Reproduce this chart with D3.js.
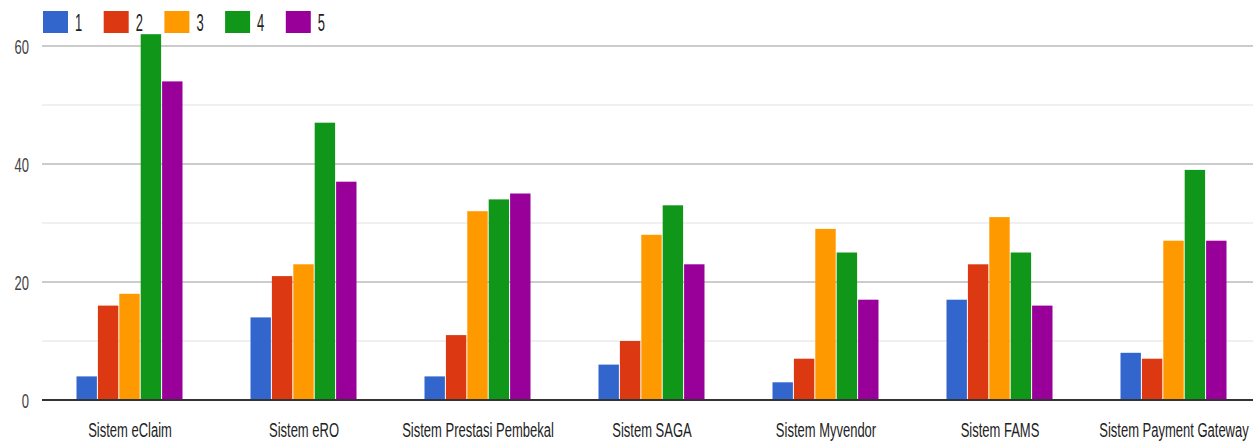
<!DOCTYPE html>
<html>
<head>
<meta charset="utf-8">
<script src="https://cdn.jsdelivr.net/npm/d3@7"></script>
<style>
  html, body { margin: 0; padding: 0; background: #fff; }
  svg { display: block; font-family: Arial, "Liberation Sans", sans-serif; }
</style>
</head>
<body>
<div id="chart"></div>
<script>
const categories = [
  'Sistem eClaim',
  'Sistem eRO',
  'Sistem Prestasi Pembekal',
  'Sistem SAGA',
  'Sistem Myvendor',
  'Sistem FAMS',
  'Sistem Payment Gateway',
];
const seriesNames = ['1', '2', '3', '4', '5'];
const series1 = [4, 14, 4, 6, 3, 17, 8];
const series2 = [16, 21, 11, 10, 7, 23, 7];
const series3 = [18, 23, 32, 28, 29, 31, 27];
const series4 = [62, 47, 34, 33, 25, 25, 39];
const series5 = [54, 37, 35, 23, 17, 16, 27];
const majorTicks = [0, 20, 40, 60];
const minorTicks = [10, 30, 50];
const colors = ['#3366cc', '#dc3912', '#ff9900', '#109618', '#990099'];

const allSeries = [series1, series2, series3, series4, series5];

const width = 1253,
  height = 445,
  plotLeft = 42,
  plotRight = 1253;

const svg = d3
  .select('#chart')
  .append('svg')
  .attr('width', width)
  .attr('height', height);

const y = d3.scaleLinear().domain([0, 60]).range([400, 46]);

const x0 = d3.scaleBand().domain(categories).range([43, 1261]).padding(0);

const groupWidth = 107;
const x1 = d3
  .scaleBand()
  .domain(seriesNames)
  .range([0, groupWidth])
  .padding(0);

/* ------- GRIDLINES ------- */
svg
  .selectAll('line.minor')
  .data(minorTicks)
  .enter()
  .append('line')
  .attr('class', 'minor')
  .attr('x1', plotLeft)
  .attr('x2', plotRight)
  .attr('y1', (d) => y(d))
  .attr('y2', (d) => y(d))
  .attr('stroke', '#ebebeb')
  .attr('stroke-width', 1.5);

svg
  .selectAll('line.major')
  .data(majorTicks.filter((d) => d !== 0))
  .enter()
  .append('line')
  .attr('class', 'major')
  .attr('x1', plotLeft)
  .attr('x2', plotRight)
  .attr('y1', (d) => y(d))
  .attr('y2', (d) => y(d))
  .attr('stroke', '#cccccc')
  .attr('stroke-width', 2);

/* ------- Y TICK LABELS ------- */
svg
  .selectAll('text.ytick')
  .data(majorTicks)
  .enter()
  .append('text')
  .attr('class', 'ytick')
  .attr('text-anchor', 'end')
  .attr('font-size', 13)
  .attr('fill', '#444')
  .attr('transform', (d) => `translate(29,${y(d) + 8}) scale(1,1.6)`)
  .text((d) => d);

/* ------- BARS ------- */
const groups = svg
  .selectAll('g.group')
  .data(categories)
  .enter()
  .append('g')
  .attr('class', 'group')
  .attr(
    'transform',
    (d) => `translate(${x0(d) + (x0.bandwidth() - groupWidth) / 2},0)`
  );

groups
  .selectAll('rect')
  .data((d, i) => seriesNames.map((s, j) => ({ s, value: allSeries[j][i], j })))
  .enter()
  .append('rect')
  .attr('x', (d) => x1(d.s))
  .attr('y', (d) => y(d.value))
  .attr('width', x1.bandwidth() - 1)
  .attr('height', (d) => y(0) - y(d.value))
  .attr('fill', (d) => colors[d.j]);

/* ------- BASELINE ------- */
svg
  .append('line')
  .attr('x1', plotLeft)
  .attr('x2', plotRight)
  .attr('y1', y(0))
  .attr('y2', y(0))
  .attr('stroke', '#333')
  .attr('stroke-width', 2);

/* ------- X LABELS ------- */
svg
  .selectAll('text.xlabel')
  .data(categories)
  .enter()
  .append('text')
  .attr('class', 'xlabel')
  .attr('text-anchor', 'middle')
  .attr('font-size', 13)
  .attr('fill', '#222')
  .attr(
    'transform',
    (d) => `translate(${x0(d) + x0.bandwidth() / 2},437) scale(1,1.6)`
  )
  .text((d) => d);

/* ------- LEGEND ------- */
const legend = svg
  .selectAll('g.legend')
  .data(seriesNames)
  .enter()
  .append('g')
  .attr('class', 'legend')
  .attr('transform', (d, i) => `translate(${43 + i * 60.7},11)`);

legend
  .append('rect')
  .attr('width', 25)
  .attr('height', 22)
  .attr('fill', (d, i) => colors[i]);

legend
  .append('text')
  .attr('font-size', 13)
  .attr('fill', '#222')
  .attr('transform', 'translate(32,20) scale(1,1.9)')
  .text((d) => d);
</script>
</body>
</html>
